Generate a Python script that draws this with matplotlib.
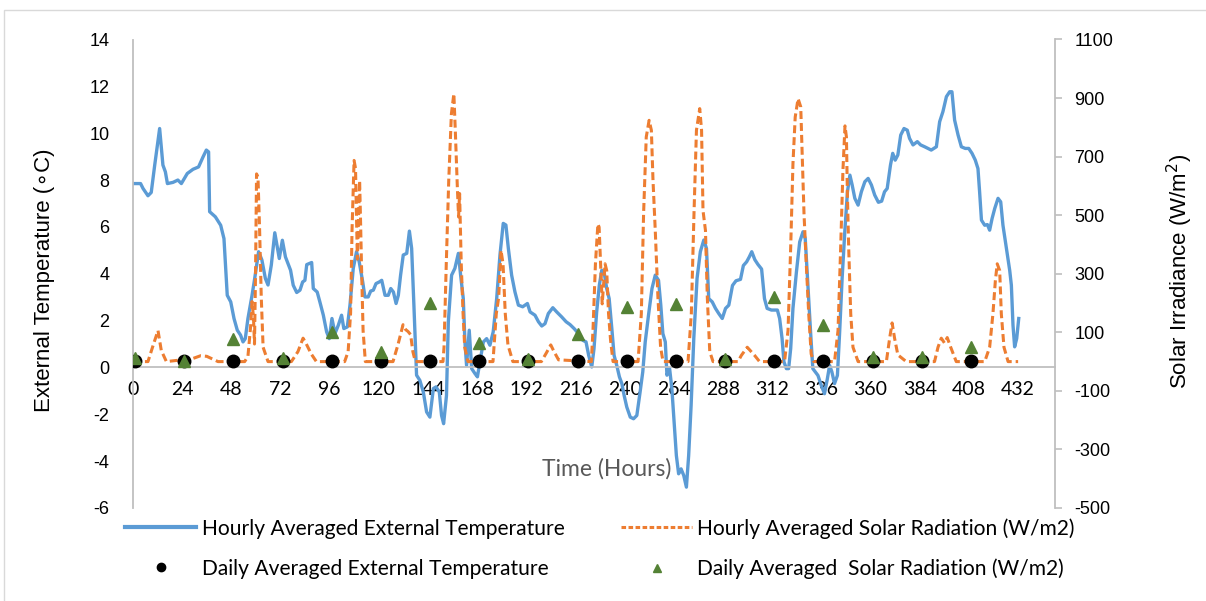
import matplotlib
matplotlib.use("Agg")
import matplotlib.pyplot as plt
from matplotlib.lines import Line2D
from matplotlib.patches import Rectangle

plt.rcParams["axes.unicode_minus"] = False

# ---------------- data ----------------
temp_hours = [0, 3.7, 4.9, 7.3, 8.9, 10.6, 13.0, 14.6, 15.8, 16.8, 19.5, 21.9, 23.6, 26.5, 29.3,
              32.0, 34.2, 35.8, 36.9, 37.4, 40.2, 42.8, 44.4, 46.0, 47.7, 49.3, 50.9, 52.5, 53.7,
              54.8, 56.1, 58.1, 59.4, 61.3, 62.9, 64.6, 65.9, 67.5, 69.2, 71.4, 72.9, 74.4, 76.9,
              78.2, 79.9, 81.5, 82.8, 83.9, 84.8, 87.2, 88.0, 89.9, 91.2, 92.9, 94.5, 95.8, 97.1,
              98.6, 100.2, 101.8, 102.9, 104.6, 105.9, 107.5, 109.1, 110.4, 112.1, 113.2, 114.8,
              116.0, 117.3, 118.6, 120.2, 121.4, 123.0, 124.6, 125.8, 127.1, 128.4, 129.5, 130.6,
              131.9, 133.6, 134.9, 136.0, 137.1, 138.4, 140.0, 141.7, 143.3, 144.9, 146.6, 147.9,
              149.5, 150.6, 151.6, 153.0, 153.9, 155.5, 157.1, 158.8, 159.9, 161.2, 162.0, 162.8,
              164.1, 165.3, 166.9, 168.1, 169.3, 171.0, 172.6, 174.2, 175.8, 177.5, 179.1, 180.7,
              182.0, 183.2, 184.8, 186.4, 188.1, 190.2, 192.5, 193.8, 196.2, 197.9, 199.5, 201.1,
              202.7, 204.9, 206.8, 209.2, 211.4, 213.3, 215.3, 217.4, 219.5, 221.1, 222.4, 223.9,
              225.0, 226.3, 227.6, 228.8, 229.9, 231.2, 232.4, 233.7, 234.8, 236.1, 237.4, 238.6,
              239.7, 241.0, 242.7, 244.3, 245.9, 247.5, 248.8, 250.0, 251.6, 253.3, 254.9, 256.5,
              257.6, 258.6, 259.8, 260.6, 261.9, 263.0, 263.9, 265.2, 266.3, 267.5, 268.8, 270.1,
              271.2, 272.4, 273.7, 275.3, 276.9, 278.6, 279.9, 281.0, 282.7, 284.3, 285.9, 287.6,
              289.2, 290.8, 292.6, 294.3, 296.5, 297.9, 299.5, 300.8, 302.0, 303.5, 305.0, 306.8,
              308.2, 309.5, 311.6, 314.5, 315.6, 316.8, 317.7, 318.9, 320.0, 321.0, 322.1, 323.8,
              325.4, 327.0, 328.1, 329.4, 330.7, 331.8, 333.0, 334.3, 335.9, 337.5, 338.9, 340.0,
              341.1, 342.4, 343.8, 344.9, 346.1, 347.4, 348.7, 349.9, 351.0, 352.3, 353.9, 355.5,
              357.2, 358.8, 360.4, 362.0, 363.8, 365.4, 366.8, 368.1, 369.7, 370.8, 372.0, 373.3,
              374.7, 376.3, 377.9, 379.0, 380.7, 382.8, 384.4, 386.4, 388.0, 389.6, 392.1, 393.7,
              395.3, 397.0, 398.6, 399.7, 401.0, 402.7, 404.3, 406.2, 407.9, 409.5, 411.1, 412.4,
              413.2, 414.1, 415.7, 417.0, 418.1, 419.3, 420.6, 422.2, 423.5, 424.6, 426.3, 427.9,
              428.7, 429.5, 430.3, 431.3, 432.3]
temp_vals = [7.85, 7.85, 7.64, 7.33, 7.47, 8.64, 10.2, 8.64, 8.35, 7.85, 7.9, 8.0, 7.85, 8.28, 8.46,
             8.56, 8.99, 9.28, 9.2, 6.65, 6.43, 6.07, 5.5, 3.08, 2.8, 2.09, 1.59, 1.38, 1.09,
             1.23, 2.09, 3.08, 3.8, 4.94, 4.59, 3.8, 3.52, 4.37, 5.75, 4.65, 5.43, 4.72, 4.15,
             3.51, 3.2, 3.3, 3.65, 3.72, 4.39, 4.48, 3.37, 3.22, 2.8, 2.23, 1.52, 1.23, 2.09,
             1.45, 1.8, 2.23, 1.66, 1.73, 2.66, 4.23, 4.94, 4.51, 3.66, 3.01, 3.01,
             3.26, 3.3, 3.58, 3.65, 3.72, 3.08, 3.08, 3.37, 3.22, 2.73, 3.08, 3.94,
             4.8, 4.87, 5.82, 5.08, 2.66, -0.33, -0.55, -1.05, -1.9, -2.12, -0.9, -0.83,
             -1.05, -2.05, -2.4, -1.2, 1.95, 3.94, 4.23, 4.87, 3.94, 2.94, 1.09, 0.09,
             1.59, -0.05, -0.26, -0.4, 0.23, 1.09, 1.23, 0.95, 1.52, 2.94, 4.8, 6.15,
             6.08, 5.08, 3.94, 3.23, 2.66, 2.59, 2.73, 2.37, 2.23, 1.95, 1.77, 1.87,
             2.3, 2.55, 2.37, 2.16, 1.95, 1.83, 1.66, 1.45, 1.16, 1.09, 0.52, 0.02,
             0.8, 2.37, 3.51, 4.15, 4.08, 3.37, 2.94, 1.66, 0.52, 0.09, -0.4, -0.69,
             -1.19, -1.69, -2.12, -2.19, -2.05, -1.05, -0.19, 1.09, 2.23, 3.37, 3.94, 3.72,
             2.66, 1.45, 1.09, -0.33, -0.05, -0.9, -2.05, -3.76, -4.54, -4.33, -4.61, -5.11,
             -3.76, -1.62, 1.23, 3.8, 4.94, 5.44, 5.08, 2.94, 2.8, 2.52, 2.3, 2.09,
             2.52, 2.66, 3.5, 3.7, 3.76, 4.35, 4.51, 4.72, 4.94, 4.6, 4.4, 4.2,
             2.94, 2.52, 2.45, 2.45, 2.09, 1.23, 0.24, -0.05, -0.05, 0.81, 2.52, 4.08,
             5.36, 5.79, 5.5, 3.51, 1.52, -0.05, -0.19, -0.34, -0.76, -1.12, -0.48, 0.09,
             -0.19, -0.69, -0.34, 1.52, 3.8, 5.79, 7.5, 8.21, 7.79, 7.22, 6.93, 7.5,
             7.93, 8.07, 7.79, 7.36, 7.05, 7.1, 7.5, 7.64, 8.64, 9.14, 8.85, 9.07,
             9.92, 10.2, 10.13, 9.78, 9.5, 9.64, 9.5, 9.42, 9.35, 9.28, 9.42, 10.49,
             10.92, 11.56, 11.77, 11.77, 10.56, 9.92, 9.42, 9.35, 9.35, 9.14, 8.85, 8.49,
             7.5, 6.29, 6.07, 6.1, 5.86, 6.36, 6.79, 7.22, 7.07, 6.07, 5.07, 4.14,
             3.51, 1.8, 0.88, 1.23, 2.09]

solar_hours = [0, 7.3, 9.8, 12.2, 13.0, 13.8, 16.3, 29.0, 33.0, 36.0, 41.5, 54.5, 56.1, 57.4,
               58.1, 58.8, 59.3, 59.8, 60.3, 61.0, 61.8, 62.6, 63.5, 65.9,
               77.3, 80.5, 83.0, 84.6, 87.0, 89.5,
               103.3, 105.0, 106.2, 106.9, 107.9, 108.6, 109.5, 110.6, 111.0, 111.5, 112.3, 113.4,
               126.9, 129.3, 131.8, 133.1, 134.2, 135.5, 136.6, 137.8,
               151.3, 151.8, 152.9, 154.1, 155.4, 156.6, 157.3, 158.3, 158.9, 159.4, 160.2, 161.1,
               161.9, 163.5,
               175.7, 177.3, 178.5, 179.6, 180.6, 181.7, 183.0, 185.4,
               199.3, 201.7, 203.9, 205.5, 207.7, 223.7,
               224.5, 225.7, 226.9, 227.5, 228.2, 229.0, 230.4, 231.2, 232.1, 233.1, 234.3,
               246.5, 248.1, 249.2, 250.5, 251.9, 253.0, 253.8, 254.9, 256.2, 257.5, 258.7,
               270.9, 272.5, 273.8, 275.0, 276.6, 277.5, 278.2, 279.4, 280.3, 281.5, 283.1,
               295.3, 296.9, 299.8, 303.4, 305.8,
               318.0, 319.7, 321.0, 322.1, 323.2, 324.6, 325.9, 326.5, 327.5, 328.6, 329.8, 331.0,
               332.3,
               342.4, 344.1, 345.4, 346.5, 347.5, 348.2, 348.7, 349.3, 350.3, 351.4, 353.9,
               367.7, 369.3, 370.5, 371.7, 373.3, 377.4,
               391.2, 392.9, 394.5, 396.1, 397.4, 399.1, 401.8,
               415.7, 418.1, 419.7, 420.9, 421.8, 423.0, 423.8, 425.1, 427.1, 432.0]
solar_vals = [0, 0, 55, 106, 72, 38, 0, 10, 20, 18, 0, 0, 18, 120,
              205, 150, 60, 300, 641, 630, 448, 220, 49, 0,
              0, 34, 80, 60, 26, 0,
              0, 34, 166, 448, 687, 660, 350, 618, 500, 334, 106, 0,
              0, 57, 126, 109, 103, 92, 34, 0,
              0, 49, 334, 618, 846, 915, 790, 596, 494, 574, 334, 163,
              49, 0,
              0, 163, 220, 380, 334, 163, 57, 0,
              0, 29, 57, 34, 6, 0,
              106, 334, 470, 459, 334, 197, 334, 311, 163, 72, 0,
              0, 163, 505, 767, 824, 790, 618, 448, 220, 49, 0,
              0, 163, 505, 790, 864, 790, 516, 448, 220, 34, 0,
              0, 21, 49, 21, 0,
              0, 106, 391, 675, 835, 898, 870, 733, 505, 334, 163, 26,
              0,
              0, 106, 391, 653, 805, 767, 562, 391, 163, 49, 0,
              0, 80, 132, 80, 23, 0,
              0, 49, 80, 63, 82, 49, 0,
              0, 49, 163, 277, 334, 311, 163, 49, 0, 0]

daily_hours = [1, 25, 49, 73, 97, 121, 145, 169, 193, 217, 241, 265, 289, 313, 337, 361, 385, 409]
daily_temp = [0.27] * 18
daily_solar = [13, 3, 77, 13, 100, 32, 199, 63, 9, 95, 186, 195, 9, 222, 126, 17, 17, 51]

x_ticks = list(range(0, 433, 24))
left_ticks = list(range(-6, 15, 2))
right_ticks = list(range(-500, 1101, 200))

# ---------------- styling ----------------
BLUE = "#5B9BD5"
ORANGE = "#ED7D31"
GREEN = "#548235"
GRID = "#BFBFBF"

W, H = 1206, 601
fig = plt.figure(figsize=(W / 100, H / 100), dpi=100)
ax = fig.add_axes([133 / W, 1 - 508 / H, (1055 - 133) / W, (508 - 39.5) / H])
ax2 = ax.twinx()

ax.plot(temp_hours, temp_vals, color=BLUE, lw=2.4, solid_joinstyle="round", zorder=2)
ax2.plot(solar_hours, solar_vals, color=ORANGE, lw=2.2, linestyle=(0, (2.6, 1.3)), zorder=2)
ax2.plot(daily_hours, daily_temp, linestyle="none", marker="o", ms=9, color="black",
         transform=ax.transData, zorder=3)
ax2.plot(daily_hours, daily_solar, linestyle="none", marker="^", ms=9, color=GREEN, zorder=4)

ax.set_xlim(0, 450)
ax.set_ylim(-6, 14)
ax2.set_ylim(-500, 1100)

ax.set_xticks(x_ticks)
ax.set_yticks(left_ticks)
ax2.set_yticks(right_ticks)

for s in ["top", "right"]:
    ax.spines[s].set_visible(False)
for s in ["top", "left", "bottom"]:
    ax2.spines[s].set_visible(False)
ax.spines["bottom"].set_position(("data", 0))
ax.spines["bottom"].set_color(GRID)
ax.spines["bottom"].set_linewidth(1.3)
ax.spines["left"].set_color(GRID)
ax.spines["left"].set_linewidth(1.3)
ax2.spines["right"].set_color(GRID)
ax2.spines["right"].set_linewidth(1.3)

ax.tick_params(axis="x", length=0, pad=10, labelsize=14, labelcolor="black")
ax.tick_params(axis="y", length=0, pad=17, labelsize=13, labelcolor="black")
ax2.tick_params(axis="y", length=5, width=1.2, color=GRID, pad=9, labelsize=13)
for lab in ax.get_xticklabels():
    lab.set_family("Lato")
for lab in ax.get_yticklabels() + ax2.get_yticklabels():
    lab.set_family("Liberation Sans")

fig.text(45 / W, 1 - 280 / H, "External Temperature (\u2218C)", rotation=90, ha="center",
         va="center", fontsize=16, family=["Liberation Sans", "DejaVu Sans"])
fig.text(1180 / W, 1 - 271 / H, "Solar Irradiance (W/m$^{2}$)", rotation=90, ha="center",
         va="center", fontsize=16, family="Liberation Sans")
fig.text(607 / W, 1 - 469 / H, "Time (Hours)", ha="center", va="center", fontsize=16.5,
         family="Lato", color="#595959")

handles = [
    Line2D([], [], color=BLUE, lw=3),
    Line2D([], [], linestyle="none", marker="o", ms=6, color="black"),
    Line2D([], [], color=ORANGE, lw=2.2, linestyle=(0, (1.5, 0.8))),
    Line2D([], [], linestyle="none", marker="^", ms=6, color=GREEN),
]
labels = ["Hourly Averaged External Temperature", "Daily Averaged External Temperature",
          "Hourly Averaged Solar Radiation (W/m2)", "Daily Averaged  Solar Radiation (W/m2)"]
fig.legend(handles, labels, ncol=2, loc="upper left", bbox_to_anchor=(125 / W, 1 - 518 / H),
           frameon=False, borderpad=0, borderaxespad=0, handlelength=3.4, handletextpad=0.25,
           columnspacing=2.7, labelspacing=0.95, prop={"family": "Lato", "size": 15.1})

fig.patches.append(Rectangle((4 / W, -0.05), 1.2, (601 - 10) / H + 0.05, transform=fig.transFigure,
                             fill=False, edgecolor="#D9D9D9", lw=1))

fig.savefig("out.png", dpi=100)
